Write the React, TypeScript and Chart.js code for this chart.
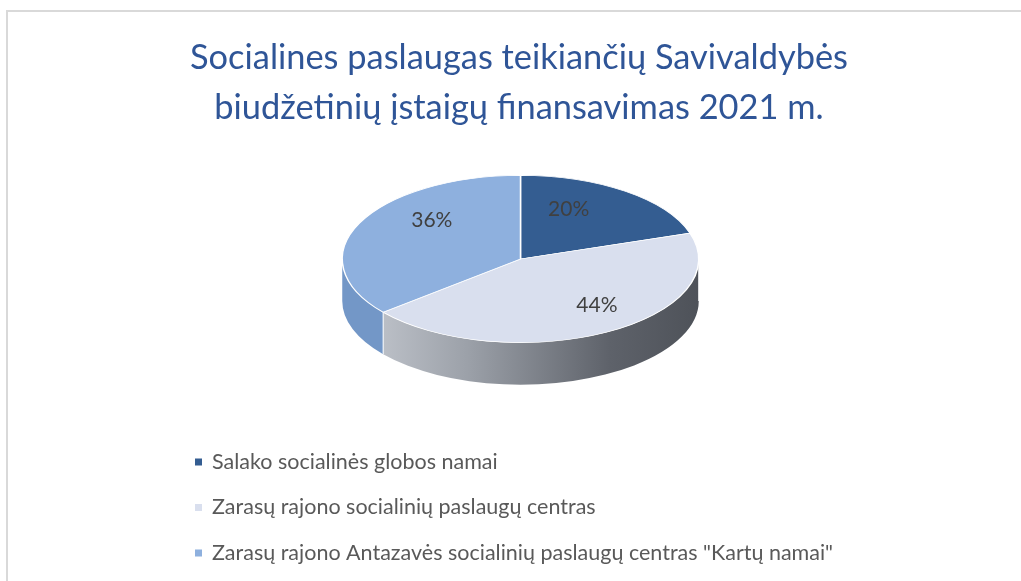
import React, { useEffect, useRef } from "react";
import { Chart, registerables } from "chart.js";

Chart.register(...registerables);

const titleLines = ["Socialines paslaugas teikiančių Savivaldybės", "biudžetinių įstaigų finansavimas 2021 m."];
const categories = [
  "Salako socialinės globos namai",
  "Zarasų rajono socialinių paslaugų centras",
  'Zarasų rajono Antazavės socialinių paslaugų centras "Kartų namai"',
];
const shares = [20, 44, 36];
const topColors = ["#345D91", "#D9DFEE", "#8EB0DE"];

const W = 1021;
const H = 581;
const CX = 520.5;
const CY = 259;
const R = 179;
const SQUASH = 84 / 179;
const DEPTH = 42;

const pie3dPlugin = {
  id: "pie3d",
  beforeDraw(chart: any) {
    const ctx = chart.ctx;
    ctx.save();
    ctx.fillStyle = "#ffffff";
    ctx.fillRect(0, 0, W, H);
    ctx.strokeStyle = "#d9d9d9";
    ctx.lineWidth = 2;
    ctx.strokeRect(7, 11, W + 50, H + 50);
    ctx.restore();
  },
  beforeDatasetsDraw(chart: any) {
    const ctx = chart.ctx;
    const meta = chart.getDatasetMeta(0);
    ctx.save();
    meta.data.forEach((arc: any, i: number) => {
      const p = arc.getProps(["x", "y", "startAngle", "endAngle", "outerRadius"], true);
      const a0 = p.startAngle;
      const a1 = p.endAngle;
      const segs: Array<[number, number]> = [];
      for (let k = -1; k <= 1; k++) {
        const s = Math.max(a0, 2 * Math.PI * k);
        const e = Math.min(a1, 2 * Math.PI * k + Math.PI);
        if (e > s) segs.push([s - 2 * Math.PI * k, e - 2 * Math.PI * k]);
      }
      const r = p.outerRadius;
      const ry = r * SQUASH;
      segs.forEach(([s, e]) => {
        ctx.beginPath();
        ctx.ellipse(CX, CY, r, ry, 0, s, e, false);
        ctx.lineTo(CX + r * Math.cos(e), CY + DEPTH + ry * Math.sin(e));
        ctx.ellipse(CX, CY + DEPTH, r, ry, 0, e, s, true);
        ctx.closePath();
        if (i === 1) {
          const g = ctx.createLinearGradient(CX - r, 0, CX + r, 0);
          g.addColorStop(0, "#C9CDD4");
          g.addColorStop(0.35, "#9CA1A9");
          g.addColorStop(0.75, "#5E626A");
          g.addColorStop(1, "#4E5259");
          ctx.fillStyle = g;
        } else if (i === 2) {
          ctx.fillStyle = "#7397C7";
        } else {
          ctx.fillStyle = "#284A76";
        }
        ctx.fill();
        ctx.strokeStyle = "#ffffff";
        ctx.lineWidth = 1;
        ctx.beginPath();
        ctx.moveTo(CX + r * Math.cos(s), CY + ry * Math.sin(s));
        ctx.lineTo(CX + r * Math.cos(s), CY + DEPTH + ry * Math.sin(s));
        ctx.stroke();
      });
    });
    ctx.restore();
    const x0 = meta.data[0].x;
    const y0 = meta.data[0].y;
    ctx.save();
    ctx.translate(CX, CY);
    ctx.scale(1, SQUASH);
    ctx.translate(-x0, -y0);
  },
  afterDatasetsDraw(chart: any) {
    const ctx = chart.ctx;
    ctx.restore();
    const meta = chart.getDatasetMeta(0);
    const total = (chart.data.datasets[0].data as number[]).reduce((a, b) => a + b, 0);
    const fr = [0.46, 0.89, 0.55];
    ctx.save();
    ctx.font = "21px Lato";
    ctx.fillStyle = "#404040";
    ctx.textAlign = "center";
    ctx.textBaseline = "middle";
    meta.data.forEach((arc: any, i: number) => {
      const p = arc.getProps(["startAngle", "endAngle", "outerRadius"], true);
      const mid = (p.startAngle + p.endAngle) / 2;
      const r = p.outerRadius * fr[i];
      const x = CX + r * Math.cos(mid);
      const y = CY + r * SQUASH * Math.sin(mid) - 19;
      const v = chart.data.datasets[0].data[i] as number;
      ctx.fillText(Math.round((v / total) * 100) + "%", x, y);
    });
    ctx.restore();
  },
  afterDraw(chart: any) {
    const ctx = chart.ctx;
    ctx.save();
    ctx.fillStyle = "#2F5597";
    ctx.font = "34.4px Lato";
    ctx.textAlign = "center";
    ctx.textBaseline = "middle";
    titleLines.forEach((t, i) => ctx.fillText(t, 519, 58 + i * 50));
    ctx.font = "21.5px Lato";
    ctx.textAlign = "left";
    const labels = chart.data.labels as string[];
    const colors = chart.data.datasets[0].backgroundColor as string[];
    labels.forEach((l, i) => {
      const y = 462 + i * 45.5;
      ctx.fillStyle = colors[i];
      ctx.fillRect(195, y - 3.5, 7, 7);
      ctx.fillStyle = "#595959";
      ctx.fillText(l, 212, y);
    });
    ctx.restore();
  },
};

export default function App() {
  const ref = useRef<HTMLCanvasElement>(null);
  useEffect(() => {
    if (!ref.current) return;
    const chart = new Chart(ref.current, {
      type: "pie",
      data: {
        labels: categories,
        datasets: [
          {
            data: shares,
            backgroundColor: topColors,
            borderColor: "#ffffff",
            borderWidth: 1.5,
          },
        ],
      },
      options: {
        responsive: false,
        animation: false,
        events: [],
        layout: {
          padding: { left: CX - R, right: W - (CX + R), top: CY - R, bottom: H - (CY + R) },
        },
        plugins: {
          legend: { display: false },
          title: { display: false },
          tooltip: { enabled: false },
        },
      },
      plugins: [pie3dPlugin],
    });
    return () => chart.destroy();
  }, []);
  return (
    <div style={{ position: "fixed", left: 0, top: 0, width: W, height: H }}>
      <canvas ref={ref} width={W} height={H} style={{ display: "block", width: W, height: H }} />
    </div>
  );
}
